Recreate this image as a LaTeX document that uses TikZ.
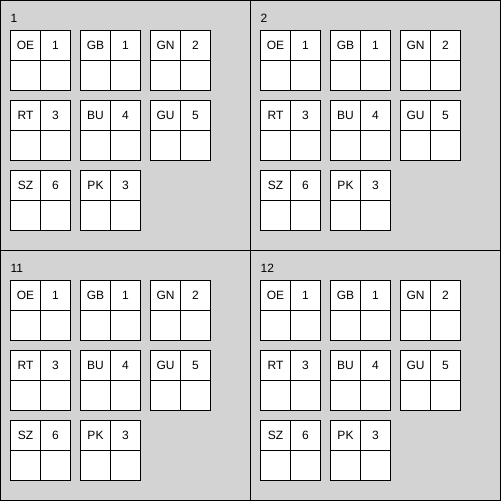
\documentclass[tikz,border=0pt]{standalone}
\usepackage{fontspec}
\setmainfont{Liberation Sans}
\definecolor{panelgray}{HTML}{D3D3D3}
\tikzset{
  panel/.style={draw, fill=panelgray, line width=1pt},
  cell/.style={draw, fill=white, line width=1pt, minimum size=30pt, inner sep=0pt, font=\fontsize{12}{14}\selectfont},
  tag/.style={anchor=base west, inner sep=0pt, font=\fontsize{12}{14}\selectfont}
}
\begin{document}
\begin{tikzpicture}[x=1pt, y=-1pt]
    \useasboundingbox (-0.5,-0.5) rectangle (500.5,500.5);
    \foreach \ox/\oy/\q in {0/0/1, 250/0/2, 0/250/11, 250/250/12} {
        \draw[panel] (\ox,\oy) rectangle ++(250,250);
        \node[tag] (tag\q) at (\ox+10, \oy+22) {\q};
        \foreach \c/\n/\col/\row in {OE/1/0/0, GB/1/1/0, GN/2/2/0, RT/3/0/1, BU/4/1/1, GU/5/2/1, SZ/6/0/2, PK/3/1/2} {
            \node[cell] (\q-\c-name) at (\ox+25+70*\col, \oy+45+70*\row) {\c};
            \node[cell] (\q-\c-num) at (\ox+55+70*\col, \oy+45+70*\row) {\n};
            \node[cell] (\q-\c-left) at (\ox+25+70*\col, \oy+75+70*\row) {};
            \node[cell] (\q-\c-right) at (\ox+55+70*\col, \oy+75+70*\row) {};
        }
    }
\end{tikzpicture}
\end{document}
